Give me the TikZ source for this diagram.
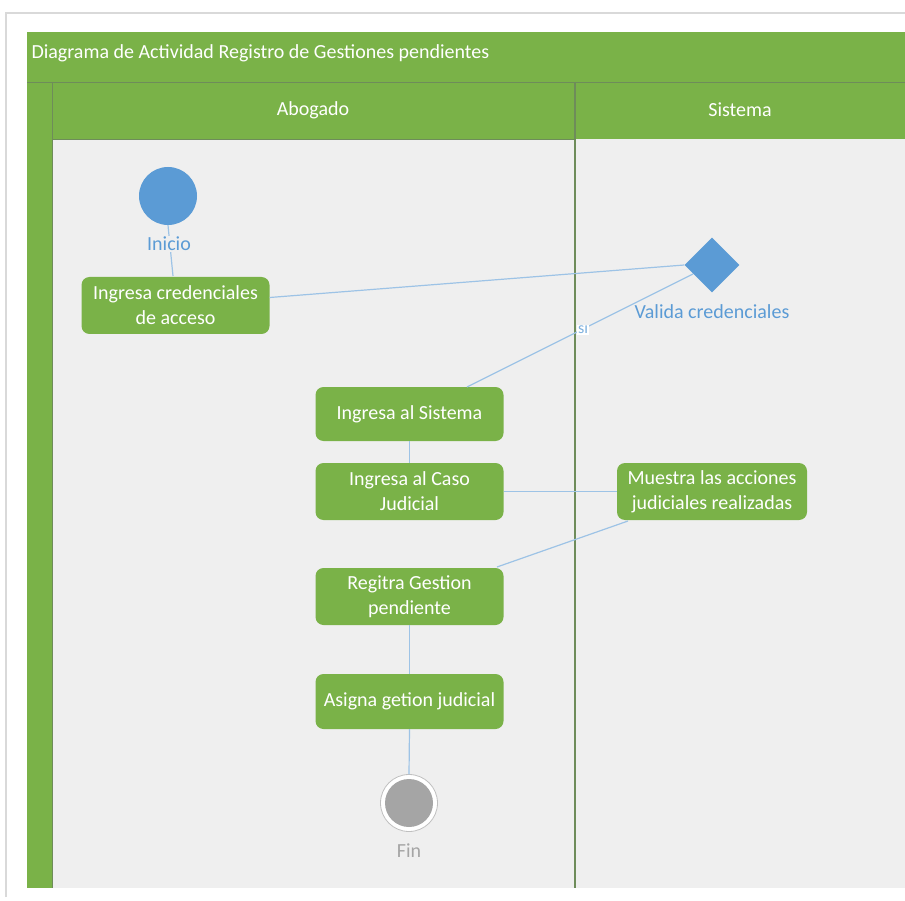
\documentclass[tikz,border=0pt]{standalone}
\usepackage{fontspec}
\setmainfont{Carlito}
\usetikzlibrary{shapes.geometric}
\definecolor{vgreen}{RGB}{122,178,72}
\definecolor{lanebg}{RGB}{239,239,239}
\definecolor{divline}{RGB}{110,140,90}
\definecolor{nblue}{RGB}{91,155,213}
\definecolor{cblue}{RGB}{157,195,230}
\definecolor{fgray}{RGB}{165,165,165}
\tikzset{
  act/.style={draw=none, fill=vgreen, rounded corners=8pt, text=white, align=center,
    minimum width=188pt, minimum height=57pt, inner sep=2pt, font=\fontsize{20}{25}\selectfont},
  conn/.style={draw=cblue, line width=1.2pt},
  blab/.style={text=nblue, font=\fontsize{20}{24}\selectfont},
  hdr/.style={text=white, font=\fontsize{20}{24}\selectfont},
}
\begin{document}
\begin{tikzpicture}[x=1pt,y=-1pt]
\useasboundingbox (0,0) rectangle (905,901);
\fill[white] (0,0) rectangle (905,901);
% frame shadow
\draw[black!15, line width=1.5pt] (6,897) -- (6,13) -- (905,13);
% pool
\fill[vgreen] (27,32) rectangle (905,139);
\fill[vgreen] (27,32) rectangle (52,888);
\fill[lanebg] (52,139) rectangle (905,888);
\draw[divline, line width=0.6pt] (27,82) -- (905,82);
\draw[divline, line width=0.6pt] (52,82) -- (52,888);
\draw[divline, line width=1.2pt] (575,82) -- (575,888);
\draw[divline, line width=0.6pt] (52,139) -- (575,139);
\node[hdr, anchor=west] (title) at (28,53) {Diagrama de Actividad Registro de Gestiones pendientes};
\node[hdr] (labog) at (313,110) {Abogado};
\node[hdr] (lsis) at (740,110) {Sistema};
% nodes
\node[circle, fill=nblue, minimum size=58pt, inner sep=0pt] (ini) at (168,196) {};
\node[act] (cred) at (175.5,305.5) {Ingresa credenciales\\de acceso};
\node[diamond, fill=nblue, minimum width=55pt, minimum height=55pt, inner sep=0pt] (dec) at (712,265) {};
\node[act, minimum height=54pt] (sis) at (409.5,414) {Ingresa al Sistema};
\node[act] (caso) at (409.5,491.5) {Ingresa al Caso\\Judicial};
\node[act, minimum width=190pt] (mues) at (712,491.5) {Muestra las acciones\\judiciales realizadas};
\node[act] (reg) at (409.5,596.5) {Regitra Gestion\\pendiente};
\node[act, minimum height=55pt] (asig) at (409.5,701.5) {Asigna getion judicial};
\node[circle, draw=black!25, line width=0.8pt, fill=white, minimum size=57pt, inner sep=0pt] (fin) at (409,803) {};
\node[circle, fill=fgray, minimum size=48pt, inner sep=0pt] at (fin) {};
% connectors
\draw[conn] (ini.south) -- (173,276);
\draw[conn] (cred.east) ++(0,-8) -- (dec.west);
\draw[conn] (693,274) -- (467,387);
\draw[conn] (sis.south) -- (caso.north);
\draw[conn] (caso.east) -- (mues.west);
\draw[conn] (628,521) -- (497,567);
\draw[conn] (reg.south) -- (asig.north);
\draw[conn] (asig.south) -- (fin.north);
% labels
\node[blab, fill=lanebg, inner sep=1pt] (linicio) at (169,244) {Inicio};
\node[blab] (lval) at (712,312) {Valida credenciales};
\node[text=fgray, font=\fontsize{20}{24}\selectfont] (lfin) at (409,851) {Fin};
\node[fill=white, text=nblue!80, inner sep=1pt, font=\fontsize{16}{16}\selectfont] (lsi) at (583,330) {sı};
\end{tikzpicture}
\end{document}
